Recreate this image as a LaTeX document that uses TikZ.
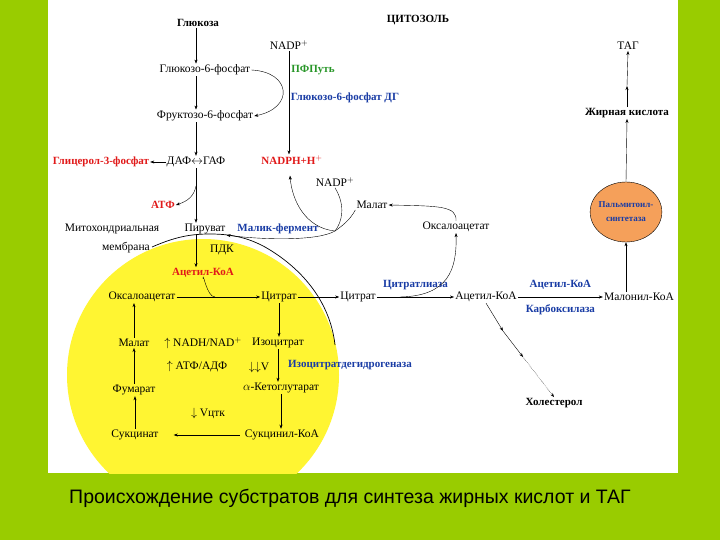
\documentclass[tikz,border=0pt]{standalone}
\usepackage{fontspec}
\setmainfont{Liberation Serif}
\newfontfamily\capfont{Liberation Sans}
\usetikzlibrary{arrows.meta,shapes.geometric,calc}

\definecolor{bggreen}{RGB}{153,204,0}
\definecolor{enzblue}{RGB}{25,60,165}
\definecolor{prodred}{RGB}{225,25,25}
\definecolor{pathgreen}{RGB}{40,150,40}
\definecolor{sintorange}{RGB}{245,160,90}
\definecolor{mitoyellow}{RGB}{255,245,50}

\begin{document}
\begin{tikzpicture}[x=1pt, y=-1pt, >={Stealth[length=4pt,width=3pt]},
	met/.style = {inner sep=1pt, font=\fontsize{11.5}{12}\selectfont},
	bmet/.style = {met, font=\fontsize{11}{12}\selectfont\bfseries},
	enz/.style = {bmet, text=enzblue},
	prod/.style = {bmet, text=prodred},
	sint/.style = {draw, ellipse, fill=sintorange, inner sep=-2pt, minimum width=66, minimum height=60, align=center, text=enzblue, font=\fontsize{9}{14}\selectfont\bfseries}]

	\useasboundingbox (0,0) rectangle (720,540);
	\fill[bggreen] (0,0) rectangle (720,540);
	\fill[white] (48,0) rectangle (678,473);
	\coordinate (mcen) at (203,375);
	\coordinate (mstart) at (152,247);
	\coordinate (mtop) at (210,234);
	\coordinate (mmid) at (265,247);
	\coordinate (mend) at (335,345);
	\begin{scope}
		\clip (48,0) rectangle (678,473);
		\fill[mitoyellow] (mcen) circle (136);
	\end{scope}
	% membrane
	\draw[line width=0.7pt] (mstart) .. controls (175,237) and (190,234) .. (mtop)
		.. controls (235,234) and (250,239) .. (mmid)
		.. controls (300,267) and (330,300) .. (mend);

	% glycolysis
	\node[bmet] (cyto) at (418,20) {ЦИТОЗОЛЬ};
	\node[bmet] (glc) at (198,23) {Глюкоза};
	\node[met] (g6p) at (205,70) {Глюкозо-6-фосфат};
	\node[met] (f6p) at (205,116) {Фруктозо-6-фосфат};
	\node[met] (dafgaf) at (196,162) {ДАФ$\leftrightarrow$ГАФ};
	\node[prod] (g3p) at (101,162) {Глицерол-3-фосфат};
	\node[prod] (atp) at (163,205) {АТФ};
	\node[met] (pyr) at (205,229) {Пируват};
	\node[met] (mito1) at (112,229) {Митохондриальная};
	\node[met] (mito2) at (126,248) {мембрана};
	\coordinate (gcol) at (196,0);
	\coordinate (atpbr) at (196,186);

	\draw[->] (gcol |- glc.south) -- (gcol |- g6p.north);
	\draw[->] (gcol |- g6p.south) -- (gcol |- f6p.north);
	\draw[->] (gcol |- f6p.south) -- (gcol |- dafgaf.north);
	\draw[->] (gcol |- dafgaf.south) -- (gcol |- pyr.north);
	\draw[->] (dafgaf.west) -- (g3p.east);
	\draw[->] (atpbr) .. controls (194,196) and (188,201) .. (atp.east);

	% pentose phosphate path
	\node[met] (nadp1) at (289,45) {NADP$^+$};
	\node[bmet, text=pathgreen] (pfp) at (313,70) {ПФПуть};
	\node[enz] (g6pdh) at (345,98) {Глюкозо-6-фосфат ДГ};
	\node[prod] (nadph) at (292,160) {NADPH+H$^+$};
	\draw[->] (nadp1.south) -- (nadp1.south |- nadph.north);
	\draw[->] (g6p.east) .. controls +(40,2) and +(40,-8) .. (f6p.east);

	% malic enzyme
	\node[enz] (malic) at (278,229) {Малик-фермент};
	\node[met] (nadp2) at (335,182) {NADP$^+$};
	\node[met] (mal2) at (372,205) {Малат};
	\node[met] (oaa2) at (456,227) {Оксалоацетат};
	\coordinate (hub) at (335,231);
	\draw (nadp2.south) .. controls (346,206) and (342,222) .. (hub);
	\draw (mal2.south west) .. controls (350,220) and (342,226) .. (hub);
	\draw[->] (hub) .. controls (305,228) and (292,200) .. ($(nadph.south)+(-2,10)$);
	\draw[->] (hub) .. controls (318,241) and (265,240) .. (pyr.south east);
	\draw[->] (oaa2.north) .. controls (457,206) and (440,206) .. (mal2.east);

	% mitochondria
	\node[met] (pdk) at (222,250) {ПДК};
	\node[prod] (acoa1) at (203,273) {Ацетил-КоА};
	\node[met] (oaa1) at (142,297) {Оксалоацетат};
	\node[met] (cit1) at (279,297) {Цитрат};
	\node[met] (icit) at (278,343) {Изоцитрат};
	\node[met] (akg) at (281,388) {$\alpha$-Кетоглутарат};
	\node[met] (succoa) at (282,435) {Сукцинил-КоА};
	\node[met] (succ) at (135,435) {Сукцинат};
	\node[met] (fum) at (134,390) {Фумарат};
	\node[met] (mal1) at (134,343) {Малат};
	\node[met] (nadh) at (203,343) {$\uparrow$ NADH/NAD$^+$};
	\node[met] (atpadp) at (197,367) {$\uparrow$ АТФ/АДФ};
	\node[met] (vdown) at (259,367) {$\downarrow\downarrow$V};
	\node[enz] (icdh) at (350,365) {Изоцитратдегидрогеназа};
	\node[met] (vctk) at (208,413) {$\downarrow$ Vцтк};
	\coordinate (join) at (215,297);

	\draw[->] (gcol |- pyr.south) -- (gcol |- acoa1.north);
	\draw[->] (oaa1) -- (cit1);
	\draw (acoa1.south) to[out=90, in=180] (join);
	\draw[->] (cit1.south) -- (cit1.south |- icit.north);
	\draw[->] (icit.south) -- (icit.south |- akg.north);
	\draw[->] (akg.south) -- (akg.south |- succoa.north);
	\draw[->, shorten <=4pt, shorten >=14pt] (succoa) -- (succ);
	\draw[->] (succ.north) -- (succ.north |- fum.south);
	\draw[->] (fum.north) -- (fum.north |- mal1.south);
	\draw[->] (mal1.north) -- (mal1.north |- oaa1.south);

	% cytosol: fatty acids
	\node[met] (cit2) at (358,297) {Цитрат};
	\node[met] (acoa2) at (486,297) {Ацетил-КоА};
	\node[met] (malcoa) at (639,297) {Малонил-КоА};
	\node[bmet] (chol) at (554,403) {Холестерол};
	\node[sint] (pal) at (626,212) {Пальмитоил-\\синтетаза};
	\node[bmet] (fa) at (627,113) {Жирная кислота};
	\node[met] (tag) at (628,46) {ТАГ};
	\coordinate (lybr) at (400,297);
	\coordinate (ch1) at (503,331);
	\coordinate (ch2) at (523,357);
	\coordinate (famid) at (627,86);

	\draw[->] (cit1) -- (cit2);
	\draw[->] (cit2) -- node[enz, above=6pt] {Цитратлиаза} (acoa2);
	\draw[->] (lybr) .. controls (448,296) and (457,270) .. (oaa2.south);
	\draw[->] (acoa2) -- node[enz, above=6pt] {Ацетил-КоА} node[enz, below=6pt] {Карбоксилаза} (malcoa);
	\draw[->] (acoa2.south) -- (ch1);
	\draw[->] (ch1) -- (ch2);
	\draw[->, densely dotted] (ch2) -- (chol.north);
	\draw[->] (malcoa.north -| pal) -- (pal.south);
	\draw[->] (pal.north) -- (fa.south);
	\draw[->] (fa.north) -- (famid);
	\draw[->] (famid) -- (tag.south);

	\node[font=\capfont\fontsize{19.5}{22}\selectfont] (caption) at (350,498) {Происхождение субстратов для синтеза жирных кислот и ТАГ};
\end{tikzpicture}
\end{document}
